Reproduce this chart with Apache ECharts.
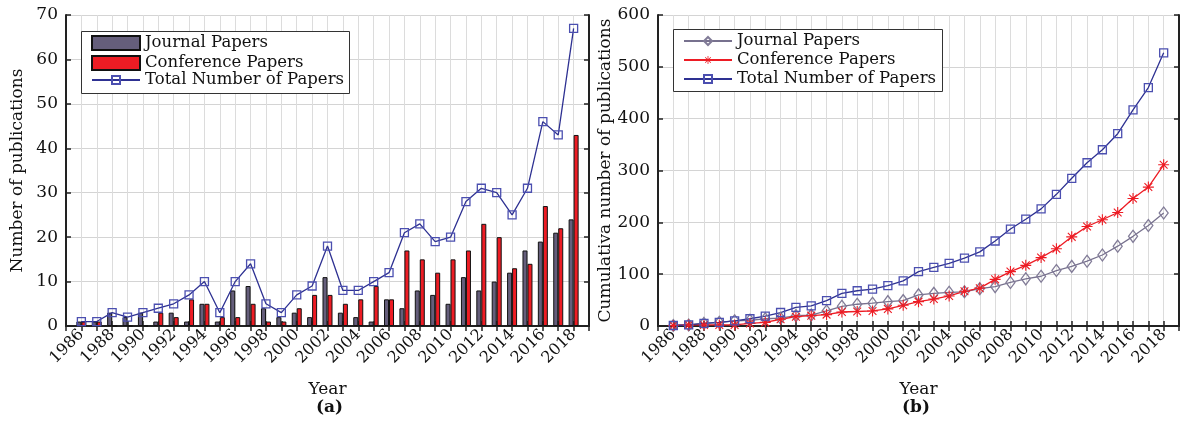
<!DOCTYPE html>
<html>
<head>
<meta charset="utf-8">
<script src="https://cdn.jsdelivr.net/npm/echarts@6/dist/echarts.min.js"></script>
<style>
html,body{margin:0;padding:0;background:#fff;}
#c{width:1184px;height:427px;}
</style>
</head>
<body>
<div id="c"></div>
<script>
const years = [1986,1987,1988,1989,1990,1991,1992,1993,1994,1995,1996,1997,1998,1999,2000,2001,2002,2003,2004,2005,2006,2007,2008,2009,2010,2011,2012,2013,2014,2015,2016,2017,2018];
const journal = [1,1,3,2,3,1,3,1,5,1,8,9,4,2,3,2,11,3,2,1,6,4,8,7,5,11,8,10,12,17,19,21,24];
const conference = [1,1,0,0,0,3,2,6,5,2,2,5,1,1,4,7,7,5,6,9,6,17,15,12,15,17,23,20,13,14,27,22,43];
const total = [1,1,3,2,3,4,5,7,10,3,10,14,5,3,7,9,18,8,8,10,12,21,23,19,20,28,31,30,25,31,46,43,67];
const cumJournal = [1,2,5,7,10,11,14,15,20,21,29,38,42,44,47,49,60,63,65,66,72,76,84,91,96,107,115,125,137,154,173,194,218];
const cumConference = [1,2,2,2,2,5,7,13,18,20,22,27,28,29,33,40,47,52,58,67,73,90,105,117,132,149,172,192,205,219,246,268,311];
const cumTotal = [1,2,5,7,10,14,19,26,36,39,49,63,68,71,78,87,105,113,121,131,143,164,187,206,226,254,285,315,340,371,417,460,527];
const leftTicks = [0,10,20,30,40,50,60,70];
const rightTicks = [0,100,200,300,400,500,600];

const FONT = 'DejaVu Serif';
const cats = [String(years[0]-1)].concat(years.map(String), [String(years[years.length-1]+1)]);
const pad = a => [null].concat(a, [null]);
const labelInt = (i, v) => { const y = +v; return y % 2 === 0 && y >= years[0] && y <= years[years.length-1]; };

const asterisk = 'path://M-1,-10L1,-10L1,10L-1,10ZM-10,-1L10,-1L10,1L-10,1ZM-6.36,-7.78L7.78,6.36L6.36,7.78L-7.78,-6.36ZM6.36,-7.78L7.78,-6.36L-6.36,7.78L-7.78,6.36Z';

function xAxes(gi) {
  return [
    { type:'category', gridIndex:gi, data:cats, boundaryGap:false, position:'bottom',
      axisLine:{lineStyle:{color:'#222',width:2}},
      axisTick:{inside:true,length:5,interval:0,lineStyle:{color:'#222',width:1.5}},
      axisLabel:{interval:labelInt, rotate:45, fontFamily:FONT, fontSize:16, color:'#111', margin:6},
      splitLine:{show:true, interval:0, lineStyle:{color:'#dcdcdc',width:1}},
      name:'Year', nameLocation:'middle', nameGap:55,
      nameTextStyle:{fontFamily:FONT,fontSize:17,color:'#111'} },
    { type:'category', gridIndex:gi, data:cats, boundaryGap:false, position:'top',
      axisLine:{lineStyle:{color:'#222',width:2}},
      axisTick:{inside:true,length:5,interval:0,lineStyle:{color:'#222',width:1.5}},
      axisLabel:{show:false}, splitLine:{show:false} }
  ];
}
function yAxes(gi, ticks, name, gap) {
  const mn = ticks[0], mx = ticks[ticks.length-1], iv = ticks[1]-ticks[0];
  return [
    { type:'value', gridIndex:gi, min:mn, max:mx, interval:iv, position:'left',
      axisLine:{show:true,lineStyle:{color:'#222',width:2}},
      axisTick:{show:true,inside:true,length:5,lineStyle:{color:'#222',width:1.5}},
      axisLabel:{fontFamily:FONT,fontSize:17,color:'#111',margin:8},
      splitLine:{show:true,lineStyle:{color:'#d4d4d4',width:1}},
      name:name, nameLocation:'middle', nameGap:gap,
      nameTextStyle:{fontFamily:FONT,fontSize:17,color:'#111'} },
    { type:'value', gridIndex:gi, min:mn, max:mx, interval:iv, position:'right',
      axisLine:{show:true,lineStyle:{color:'#222',width:2}},
      axisTick:{show:true,inside:true,length:5,lineStyle:{color:'#222',width:1.5}},
      axisLabel:{show:false}, splitLine:{show:false} }
  ];
}

const legendText = {fontFamily:FONT,fontSize:16.5,color:'#111'};
const legBase = {orient:'vertical', itemWidth:48, itemGap:2, padding:0, z:10, textStyle:legendText};

const option = {
  animation:false,
  backgroundColor:'#fff',
  grid:[
    {left:66, right:595, top:15, bottom:101, containLabel:false},
    {left:658, right:5, top:15, bottom:101, containLabel:false}
  ],
  xAxis: xAxes(0).concat(xAxes(1)),
  yAxis: yAxes(0, leftTicks, 'Number of publications', 40).concat(yAxes(1, rightTicks, 'Cumulativa number of publications', 38)),
  legend:[
    Object.assign({}, legBase, { left:91, top:34.5, itemHeight:14, itemGap:3,
      data:[{name:'Journal Papers',icon:'rect'},{name:'Conference Papers',icon:'rect'}] }),
    Object.assign({}, legBase, { left:91, top:71.5, itemHeight:10,
      data:['Total Number of Papers'] }),
    Object.assign({}, legBase, { left:683, top:32.5, itemHeight:10, itemGap:2,
      data:['Journal Papers ','Conference Papers ','Total Number of Papers '] })
  ],
  series:[
    { name:'Journal Papers', type:'bar', xAxisIndex:0, yAxisIndex:0, data:pad(journal),
      barWidth:5, barGap:'0%', itemStyle:{color:'#655e7b', borderColor:'#111', borderWidth:1} },
    { name:'Conference Papers', type:'bar', xAxisIndex:0, yAxisIndex:0, data:pad(conference),
      barWidth:5, barGap:'0%', itemStyle:{color:'#ed1c24', borderColor:'#111', borderWidth:1} },
    { name:'Total Number of Papers', type:'line', xAxisIndex:0, yAxisIndex:0, data:pad(total),
      symbol:'rect', symbolSize:8, showAllSymbol:true, z:5,
      lineStyle:{color:'#2e3192',width:1.3},
      itemStyle:{color:'rgba(255,255,255,0)', borderColor:'#4b4fb0', borderWidth:1.3} },
    { name:'Journal Papers ', type:'line', xAxisIndex:2, yAxisIndex:2, data:pad(cumJournal),
      symbol:'diamond', symbolSize:[9,12], showAllSymbol:true,
      lineStyle:{color:'#77718e',width:1.3},
      itemStyle:{color:'rgba(255,255,255,0)', borderColor:'#817b97', borderWidth:1.3} },
    { name:'Conference Papers ', type:'line', xAxisIndex:2, yAxisIndex:2, data:pad(cumConference),
      symbol:asterisk, symbolSize:11, showAllSymbol:true,
      lineStyle:{color:'#ed1c24',width:1.3},
      itemStyle:{color:'#ed1c24'} },
    { name:'Total Number of Papers ', type:'line', xAxisIndex:2, yAxisIndex:2, data:pad(cumTotal),
      symbol:'rect', symbolSize:8, showAllSymbol:true,
      lineStyle:{color:'#2e3192',width:1.3},
      itemStyle:{color:'rgba(255,255,255,0)', borderColor:'#4b4fb0', borderWidth:1.3} }
  ],
  graphic:[
    { type:'rect', z:9, shape:{x:81.5, y:31.5, width:268, height:62}, style:{fill:'#fff', stroke:'#333', lineWidth:1} },
    { type:'rect', z:9, shape:{x:673.5, y:29.5, width:269, height:62}, style:{fill:'#fff', stroke:'#333', lineWidth:1} },
    { type:'text', z:9, left:316, top:399, style:{text:'(a)', font:'bold 17px "DejaVu Serif"', fill:'#111'} },
    { type:'text', z:9, left:902, top:399, style:{text:'(b)', font:'bold 17px "DejaVu Serif"', fill:'#111'} }
  ]
};
const chart = echarts.init(document.getElementById('c'), null, {renderer:'canvas'});
chart.setOption(option);
</script>
</body>
</html>
